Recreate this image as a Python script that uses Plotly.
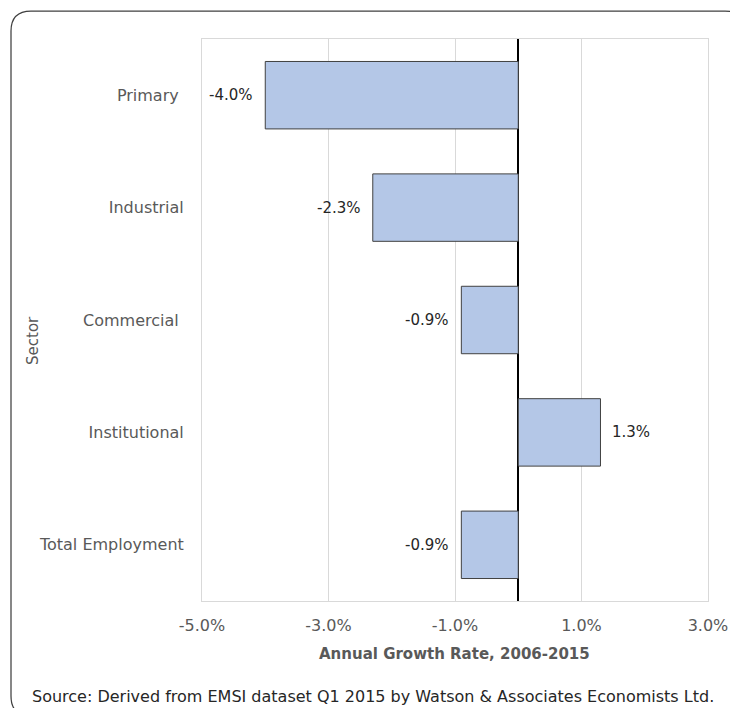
import plotly.graph_objects as go

# Sector growth data (annual growth rate, %)
sectors = ["Primary", "Industrial", "Commercial", "Institutional", "Total Employment"]
sector_labels = ["Primary\u00a0", "Industrial", "Commercial\u00a0", "Institutional", "Total Employment"]
growth = [-4.0, -2.3, -0.9, 1.3, -0.9]
tick_vals = [-5, -3, -1, 1, 3]
tick_text = ["-5.0%", "-3.0%", "-1.0%", "1.0%", "3.0%"]

W, H = 730, 708
ML, MR, MT, MB = 202, 22, 39, 107
PW, PH = W - ML - MR, H - MT - MB

FONT = "DejaVu Sans, Liberation Sans, Arial, sans-serif"
GRAY = "#595959"
DARK = "#262626"


def px(x):
    return (x - ML) / PW


def py(y):
    return (H - MB - y) / PH


fig = go.Figure(
    go.Bar(
        x=growth,
        y=sectors,
        orientation="h",
        width=0.6,
        marker=dict(color="#B4C7E7", line=dict(color="#404040", width=1)),
        hoverinfo="skip",
    )
)

# value labels beside each bar end
for s, v in zip(sectors, growth):
    fig.add_annotation(
        x=v, y=s, xref="x", yref="y",
        text=f"{v:.1f}%",
        showarrow=False,
        xanchor="right" if v < 0 else "left",
        xshift=-10 if v < 0 else 10,
        font=dict(family=FONT, size=15, color=DARK),
    )

# y-axis title
fig.add_annotation(
    x=px(33), y=py(341), xref="paper", yref="paper",
    text="Sector", textangle=-90, showarrow=False,
    xanchor="center", yanchor="middle",
    font=dict(family=FONT, size=15, color=GRAY),
)

# x-axis title
fig.add_annotation(
    x=px(454), y=py(654), xref="paper", yref="paper",
    text="<b>Annual Growth Rate, 2006-2015</b>", showarrow=False,
    xanchor="center", yanchor="middle",
    font=dict(family=FONT, size=15, color=GRAY),
)

# source note
fig.add_annotation(
    x=px(30), y=py(697), xref="paper", yref="paper",
    text="Source: Derived from EMSI dataset Q1 2015 by Watson &amp; Associates Economists Ltd.",
    showarrow=False, xanchor="left", yanchor="middle",
    font=dict(family=FONT, size=16, color=DARK),
)

# rounded outer frame
L, T, R, B, r = 11, 11, 745, 716, 20
path = (
    f"M {px(L)},{py(T + r)} "
    f"Q {px(L)},{py(T)} {px(L + r)},{py(T)} "
    f"L {px(R - r)},{py(T)} "
    f"Q {px(R)},{py(T)} {px(R)},{py(T + r)} "
    f"L {px(R)},{py(B - r)} "
    f"Q {px(R)},{py(B)} {px(R - r)},{py(B)} "
    f"L {px(L + r)},{py(B)} "
    f"Q {px(L)},{py(B)} {px(L)},{py(B - r)} Z"
)
fig.add_shape(type="path", path=path, xref="paper", yref="paper",
              line=dict(color="#404040", width=1.25), layer="above")

fig.update_layout(
    width=W, height=H,
    margin=dict(l=ML, r=MR, t=MT, b=MB, pad=0, autoexpand=False),
    paper_bgcolor="white", plot_bgcolor="white",
    showlegend=False,
    bargap=0.4,
    font=dict(family=FONT, color=GRAY),
    xaxis=dict(
        range=[-5, 3],
        tickvals=tick_vals, ticktext=tick_text,
        showgrid=True, gridcolor="#D9D9D9", gridwidth=1,
        zeroline=True, zerolinecolor="black", zerolinewidth=2,
        showline=True, linecolor="#D9D9D9", linewidth=1, mirror=True,
        ticks="", ticklabelstandoff=10,
        tickfont=dict(family=FONT, size=16, color=GRAY),
        automargin=False,
        fixedrange=True,
    ),
    yaxis=dict(
        categoryorder="array", categoryarray=sectors,
        autorange="reversed",
        tickvals=sectors, ticktext=sector_labels,
        showgrid=False,
        showline=True, linecolor="#D9D9D9", linewidth=1, mirror=True,
        ticks="", ticklabelstandoff=14,
        tickfont=dict(family=FONT, size=16, color=GRAY),
        automargin=False,
        fixedrange=True,
    ),
)

fig.write_html("out.html")
